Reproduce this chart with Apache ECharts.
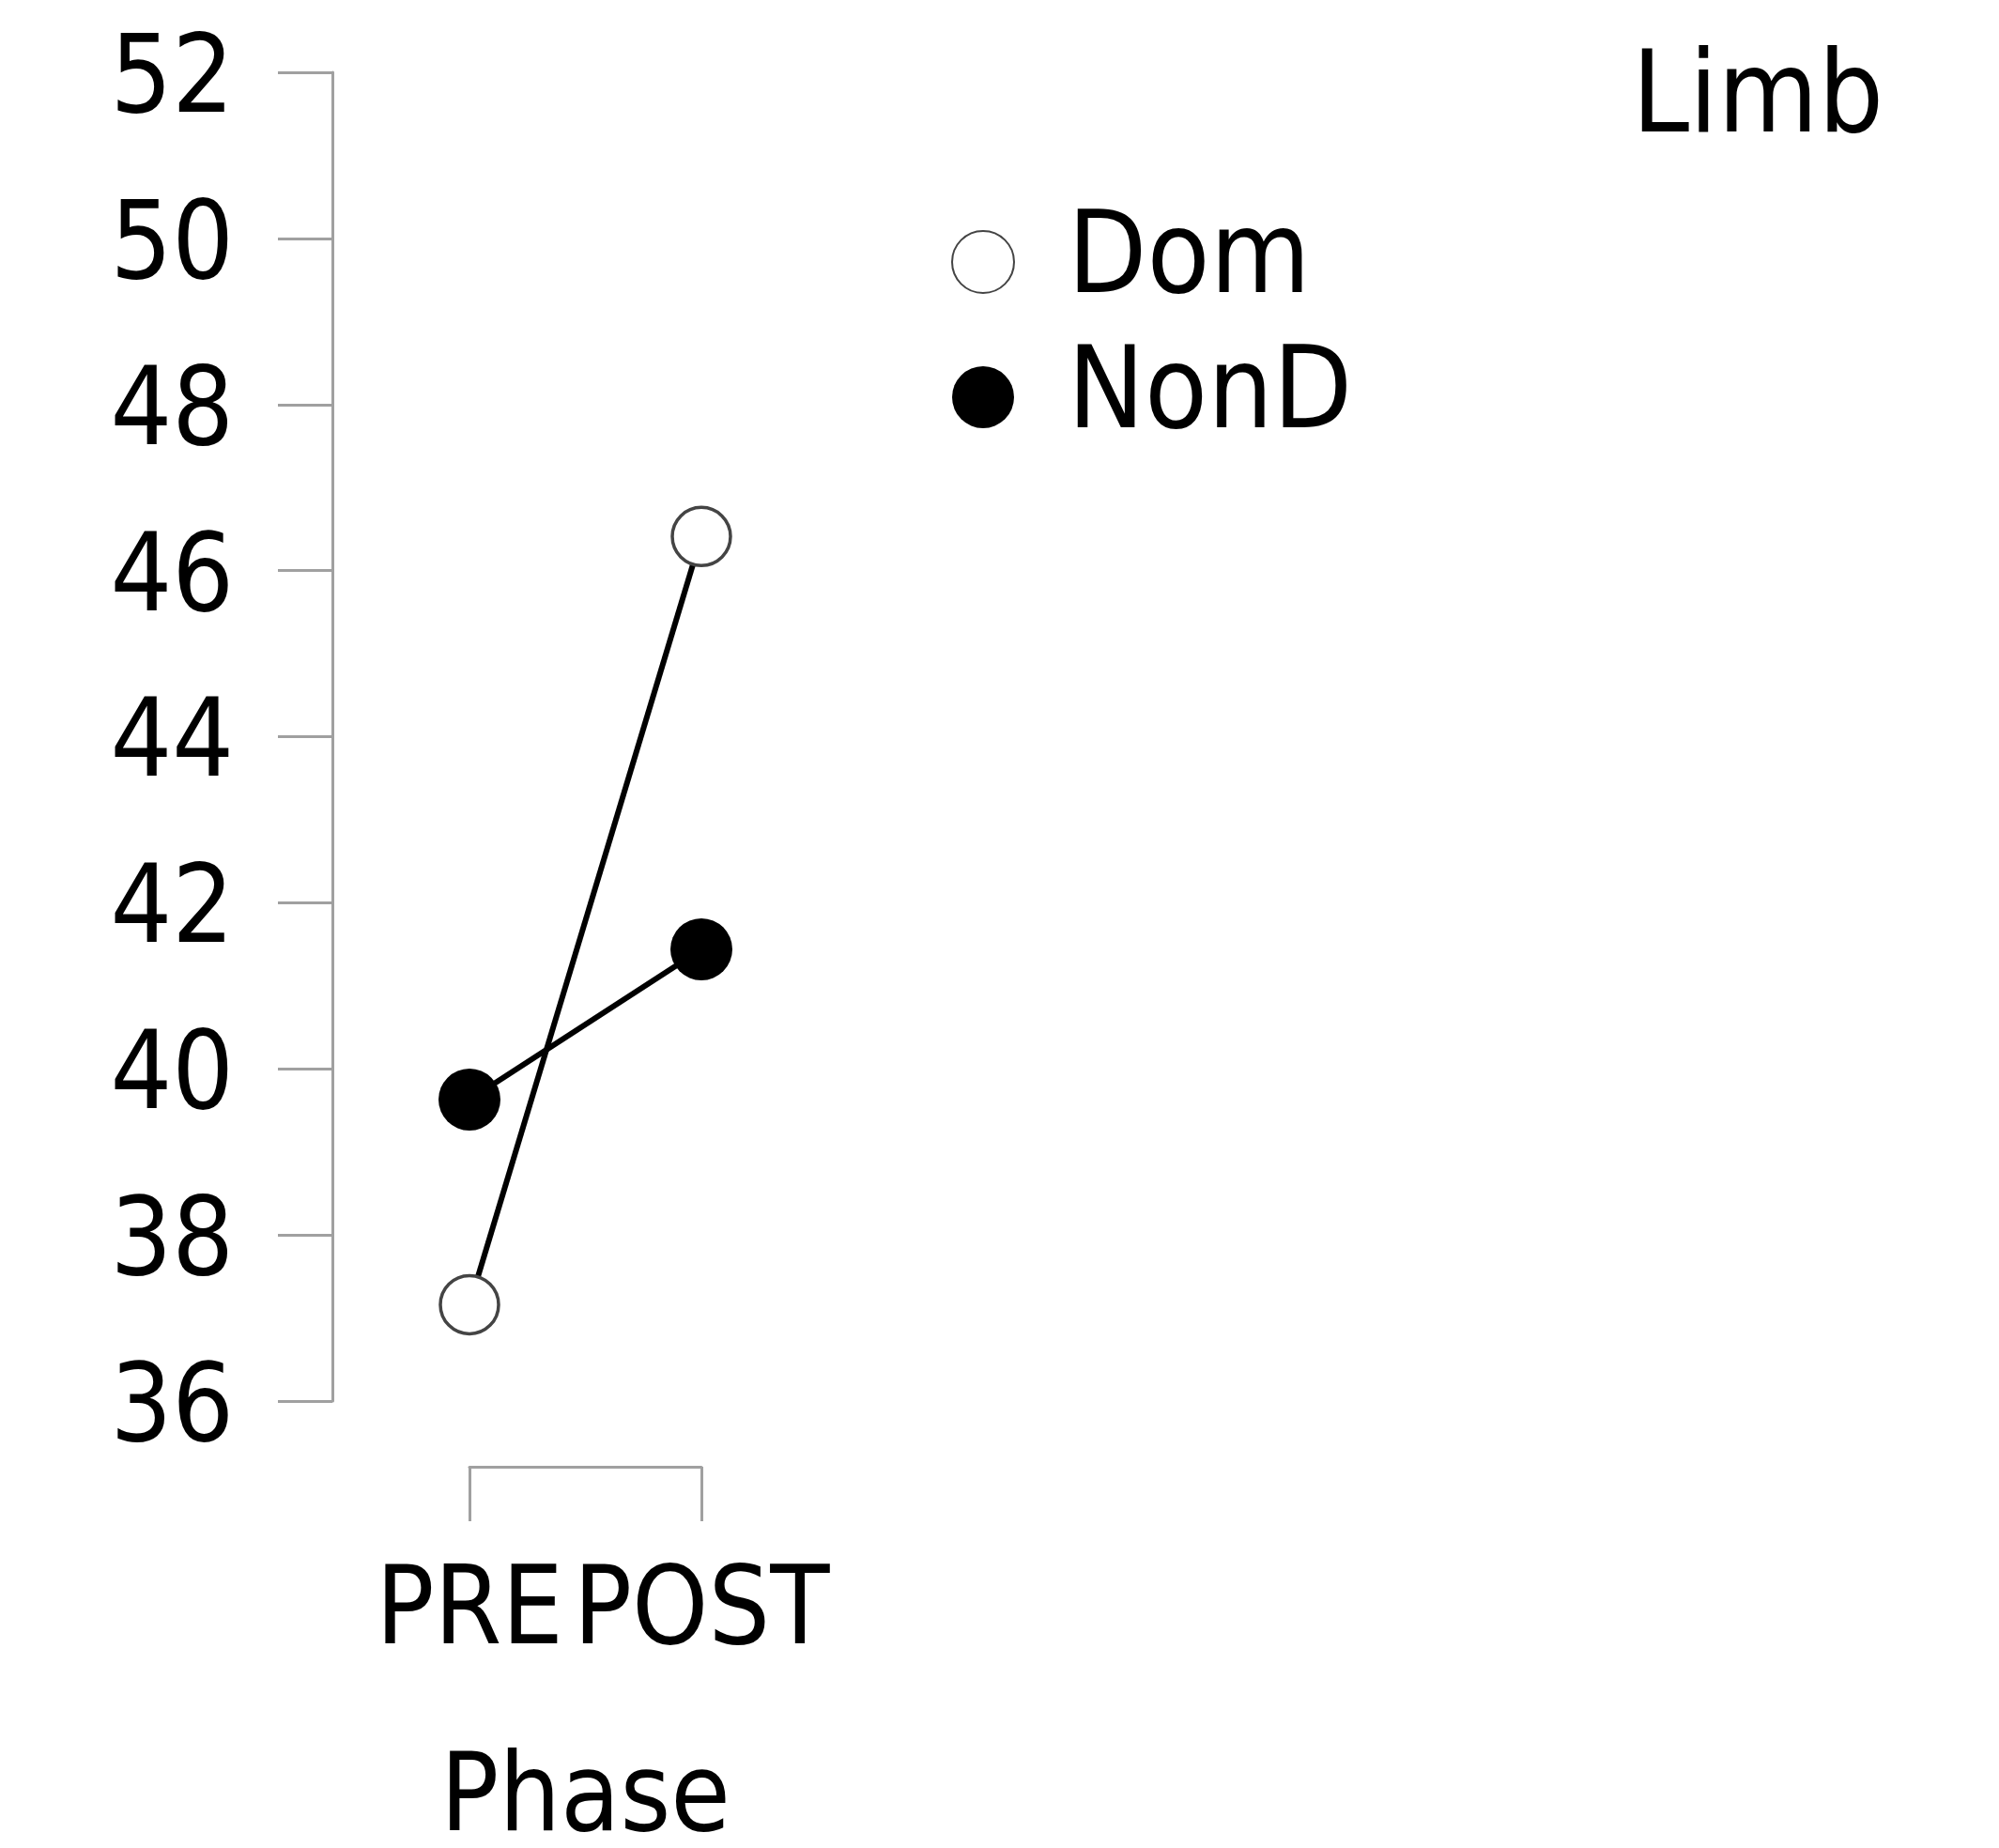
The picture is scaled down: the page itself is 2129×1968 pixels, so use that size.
<!DOCTYPE html>
<html>
<head>
<meta charset="utf-8">
<script src="https://cdn.jsdelivr.net/npm/echarts@6/dist/echarts.min.js"></script>
<style>html,body{margin:0;padding:0;background:#fff;}#c{width:2129px;height:1968px;}</style>
</head>
<body>
<div id="c"></div>
<script>
const categories = ['PRE', 'POST'];
const domValues = [37.16, 46.41];
const nonDValues = [39.63, 41.44];
const yMin = 36, yMax = 52, yStep = 2;
const FONT = '"DejaVu Sans Condensed", "DejaVu Sans", sans-serif';

const chart = echarts.init(document.getElementById('c'), null, {renderer: 'canvas'});
chart.setOption({
  backgroundColor: '#ffffff',
  animation: false,
  title: {
    text: 'Limb', left: 1733, top: 42,
    textStyle: {fontFamily: FONT, fontSize: 122, fontWeight: 'normal', color: '#000'}
  },
  legend: {
    orient: 'vertical', left: 1008, top: 202,
    icon: 'circle', itemWidth: 66, itemHeight: 66, itemGap: 0,
    textStyle: {fontFamily: FONT, fontSize: 122, color: '#000', lineHeight: 144, padding: [0, 0, 0, 52]},
    data: ['Dom', 'NonD']
  },
  grid: {left: 500, top: 77, width: 247, height: 1415, containLabel: false, outerBoundsMode: 'none'},
  xAxis: {
    type: 'category', data: categories, boundaryGap: false, offset: 70,
    axisLine: {lineStyle: {color: '#a0a0a0', width: 3}},
    axisTick: {show: true, length: 58, lineStyle: {color: '#a0a0a0', width: 3}},
    axisLabel: {fontFamily: FONT, fontSize: 115, color: '#000', margin: 101, interval: 0},
    name: 'Phase', nameLocation: 'middle', nameGap: 300,
    nameTextStyle: {fontFamily: FONT, fontSize: 115, color: '#000', verticalAlign: 'top'},
    splitLine: {show: false}
  },
  yAxis: {
    type: 'value', min: yMin, max: yMax, interval: yStep, offset: 146,
    axisLine: {show: true, lineStyle: {color: '#a0a0a0', width: 3}},
    axisTick: {show: true, length: 58, lineStyle: {color: '#a0a0a0', width: 3}},
    axisLabel: {fontFamily: FONT, fontSize: 115, color: '#000', margin: 105, verticalAlign: 'top', lineHeight: 24},
    splitLine: {show: false}
  },
  series: [
    {
      name: 'Dom', type: 'line', data: domValues,
      symbol: 'circle', symbolSize: 62,
      lineStyle: {color: '#000', width: 6},
      itemStyle: {color: '#fff', borderColor: '#444', borderWidth: 3.5},
      z: 2
    },
    {
      name: 'NonD', type: 'line', data: nonDValues,
      symbol: 'circle', symbolSize: 66,
      lineStyle: {color: '#000', width: 6},
      itemStyle: {color: '#000', borderColor: '#000', borderWidth: 0},
      z: 3
    }
  ]
});
</script>
</body>
</html>
